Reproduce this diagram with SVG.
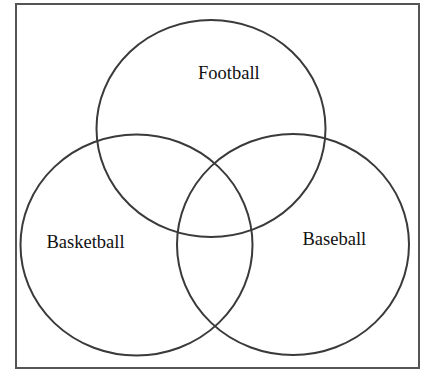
<svg xmlns="http://www.w3.org/2000/svg" width="422" height="370" viewBox="0 0 422 370">
<style>
.set{fill:none;stroke:#3a3a3a;stroke-width:2}
.lbl{font-family:"Liberation Serif","Times New Roman",serif;font-size:18.5px;fill:#111}
</style>
<rect x="0" y="0" width="422" height="370" fill="#fff"/>
<rect x="16" y="4" width="403" height="364" fill="none" stroke="#555" stroke-width="2"/>
<g id="football">
<ellipse class="set" cx="211" cy="128.5" rx="114.5" ry="108.5"/>
<text class="lbl" x="198" y="79">Football</text>
</g>
<g id="basketball">
<ellipse class="set" cx="136.5" cy="245" rx="116" ry="110.5"/>
<text class="lbl" x="46.5" y="248">Basketball</text>
</g>
<g id="baseball">
<ellipse class="set" cx="293" cy="244.5" rx="116" ry="110.5"/>
<text class="lbl" x="302.5" y="245">Baseball</text>
</g>
<g id="connectors"/>
</svg>
